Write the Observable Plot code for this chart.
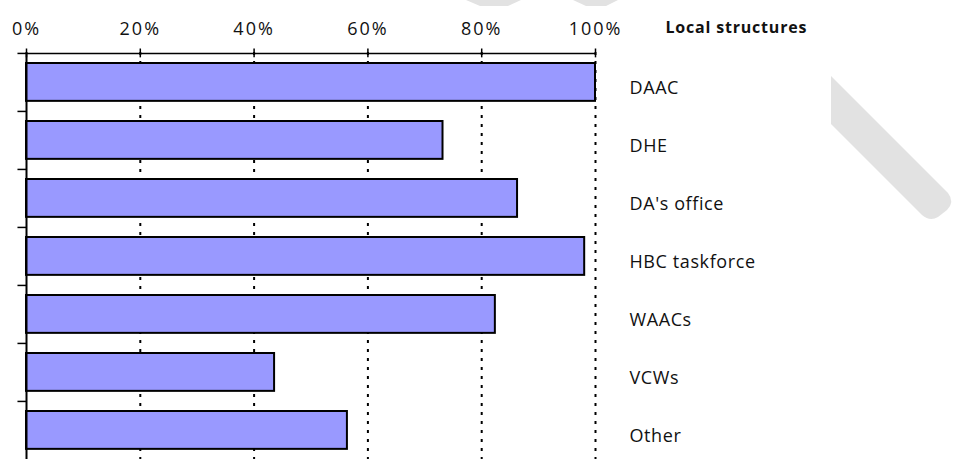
<!DOCTYPE html>
<html>
<head>
<meta charset="utf-8">
<script src="https://cdn.jsdelivr.net/npm/d3@7"></script>
<script src="https://cdn.jsdelivr.net/npm/@observablehq/plot@0.6"></script>
<style>
  html, body { margin: 0; padding: 0; background: #fff; }
  #wrap { position: relative; width: 956px; height: 459px; }
  #wm { position: absolute; left: 0; top: 0; pointer-events: none; }
</style>
</head>
<body>
<div id="wrap">
  <div id="chart"></div>
  <svg id="wm" width="956" height="459">
    <polygon points="466,0 521,0 508,6 480,6" fill="#e2e2e2"/>
    <polygon points="573,0 618,0 606,6 586,6" fill="#e2e2e2"/>
    <path d="M831,76 L948,193 Q955,202 947,210 L938,217 Q930,222 922,215 L831,124 Z" fill="#e2e2e2"/>
  </svg>
</div>
<script>
const categories = ["DAAC", "DHE", "DA's office", "HBC taskforce", "WAACs", "VCWs", "Other"];
const values = [1.00, 0.732, 0.863, 0.981, 0.824, 0.436, 0.564];
const xTicks = [0, 0.2, 0.4, 0.6, 0.8, 1.0];
const gridTicks = [0.2, 0.4, 0.6, 0.8, 1.0];
const titleText = ["Local structures"];

const data = categories.map((c, i) => ({name: c, value: values[i]}));

const W = 956, H = 459, mTop = 52, mBottom = 0, mLeft = 26, mRight = 361;
const step = (H - mTop - mBottom) / categories.length;
const font = "'Open Sans', sans-serif";

const chart = Plot.plot({
  width: W,
  height: H,
  marginTop: mTop,
  marginBottom: mBottom,
  marginLeft: mLeft,
  marginRight: mRight,
  style: {background: "transparent", fontFamily: font, overflow: "visible"},
  x: {domain: [0, 1], axis: null},
  y: {domain: categories, padding: 0, axis: null},
  marks: [
    // dotted gridlines
    Plot.ruleX(gridTicks, {x: d => d, stroke: "#000", strokeWidth: 2, strokeDasharray: "3,6"}),
    // bars
    Plot.barX(data, {x: "value", y: "name", fill: "#9999ff", stroke: "#000", strokeWidth: 2, insetTop: 10, insetBottom: step - 48}),
    // left axis line
    Plot.ruleX([0], {x: d => d, stroke: "#000", strokeWidth: 2}),
    // left tick marks at band tops
    Plot.ruleY(categories, {y: d => d, x1: -0.015, x2: 0, dy: -step / 2, stroke: "#000", strokeWidth: 1.5}),
    // top axis line
    Plot.ruleY([categories[0]], {y: d => d, x1: 0, x2: 1, dy: -step / 2, stroke: "#000", strokeWidth: 1.5}),
    // top tick marks
    Plot.tickX(xTicks, {x: d => d, y: () => categories[0], insetBottom: step - 9, dy: -4.5, stroke: "#000", strokeWidth: 1.5}),
    // top tick labels
    Plot.text(xTicks, {x: d => d, text: d => Math.round(d * 100) + "%", frameAnchor: "top", lineAnchor: "bottom", dy: -18, dx: 0, fontSize: 18, fill: "#111", textAnchor: "middle", fontFamily: font}),
    // category labels
    Plot.text(data, {x: () => 1, y: "name", text: "name", textAnchor: "start", dx: 34, dy: 6, fontSize: 18, fill: "#111", fontFamily: font}),
    // section title
    Plot.text(titleText, {x: () => 1, text: d => d, frameAnchor: "top", lineAnchor: "bottom", textAnchor: "start", dx: 70, dy: -20, fontSize: 16, fontWeight: "bold", fill: "#111", fontFamily: font})
  ]
});

// letter spacing tweaks
d3.select(chart).selectAll("text").style("letter-spacing", function() {
  const t = this.textContent;
  if (/%$/.test(t)) return "2px";
  if (t === titleText[0]) return "0.8px";
  return "0.6px";
});

document.getElementById("chart").appendChild(chart);
</script>
</body>
</html>
